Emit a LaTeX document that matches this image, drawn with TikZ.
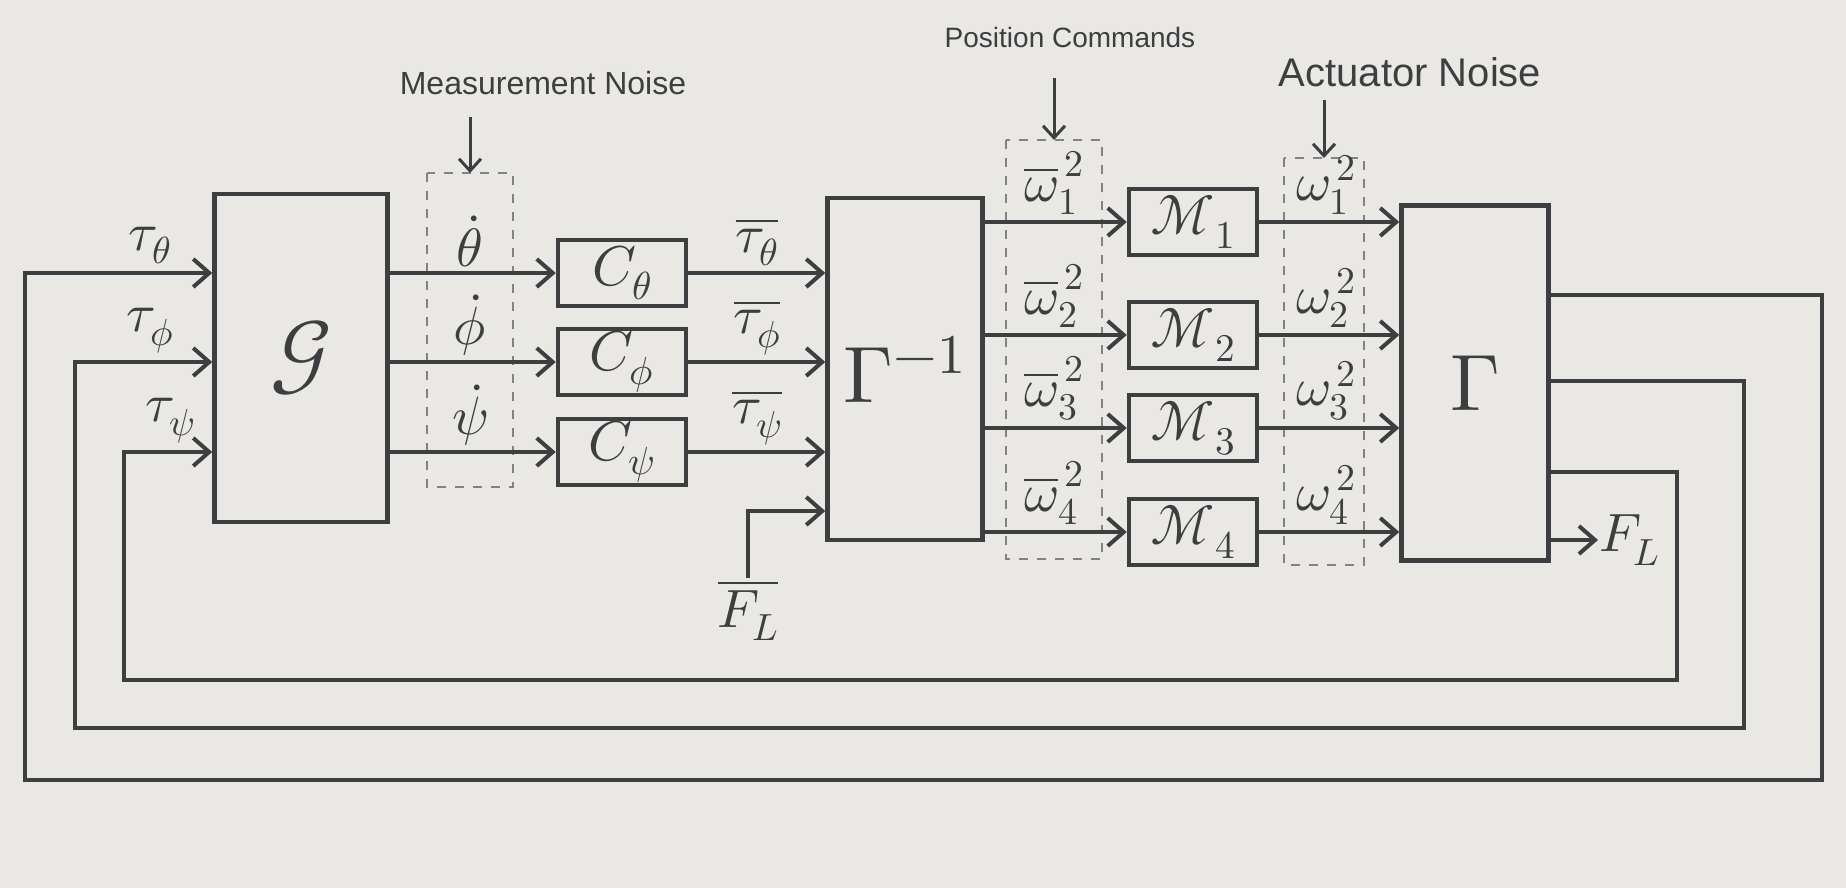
\documentclass[tikz,border=0pt]{standalone}
\usepackage{fontspec}
\usepackage{unicode-math}
\newfontfamily\annot{Liberation Sans}
\usetikzlibrary{arrows.meta}
\definecolor{paper}{RGB}{234,232,228}
\definecolor{ink}{RGB}{62,62,64}
\definecolor{pencil}{RGB}{130,130,130}
\tikzset{
  blk/.style={draw=ink,line width=4.5pt,inner sep=0pt,text=ink,font=\fontsize{56}{60}\selectfont},
  conn/.style={draw=ink,line width=4pt},
  arr/.style={conn,-{Straight Barb[length=16pt,width=28pt,line width=4pt]}},
  noisearr/.style={draw=ink,line width=3pt,-{Straight Barb[length=12pt,width=22pt,line width=3pt]}},
  noisebox/.style={draw=pencil,line width=1.6pt,dash pattern=on 9pt off 9pt},
  lbl/.style={text=ink,inner sep=1pt,font=\fontsize{54}{58}\selectfont},
  note/.style={text=ink,inner sep=0pt}
}
\begin{document}
\begin{tikzpicture}[x=1pt,y=-1pt]
\useasboundingbox (0,0) rectangle (1846,888);
\fill[paper] (0,0) rectangle (1846,888);

% noise / command regions
\coordinate (mboxN) at (470,173);
\coordinate (pboxN) at (1054,140);
\coordinate (aboxN) at (1324,158);
\draw[noisebox] (427,173) rectangle (513,487);
\draw[noisebox] (1006,140) rectangle (1102,559);
\draw[noisebox] (1284,158) rectangle (1364,565);

\node[note,font=\annot\fontsize{32}{36}\selectfont] (mnote) at (543,83) {Measurement Noise};
\node[note,font=\annot\fontsize{28}{32}\selectfont] (pnote) at (1070,37) {Position Commands};
\node[note,font=\annot\fontsize{40}{44}\selectfont] (anote) at (1410,72) {Actuator Noise};
\coordinate (mA) at (470,117);
\coordinate (pA) at (1054,78);
\coordinate (aA) at (1324,100);
\draw[noisearr] (mA) -- (mboxN);
\draw[noisearr] (pA) -- (pboxN);
\draw[noisearr] (aA) -- (aboxN);

% blocks
\node[blk,minimum width=173pt,minimum height=328pt,font=\fontsize{90}{96}\selectfont] (G) at (301,358) {$\mathcal{G}$};
\node[blk,minimum width=128pt,minimum height=66pt] (Cth) at (622,273) {$C_\theta$};
\node[blk,minimum width=128pt,minimum height=66pt] (Cph) at (622,362) {$C_\phi$};
\node[blk,minimum width=128pt,minimum height=66pt] (Cps) at (622,452) {$C_\psi$};
\node[blk,minimum width=155pt,minimum height=342pt,font=\fontsize{80}{86}\selectfont] (Ginv) at (905,369) {$\Gamma^{-1}$};
\node[blk,minimum width=128pt,minimum height=66pt] (M1) at (1193,222) {$\mathcal{M}_1$};
\node[blk,minimum width=128pt,minimum height=66pt] (M2) at (1193,335) {$\mathcal{M}_2$};
\node[blk,minimum width=128pt,minimum height=66pt] (M3) at (1193,428) {$\mathcal{M}_3$};
\node[blk,minimum width=128pt,minimum height=66pt] (M4) at (1193,532) {$\mathcal{M}_4$};
\node[blk,minimum width=147pt,minimum height=355pt,font=\fontsize{80}{86}\selectfont] (Gam) at (1475,383) {$\Gamma$};

% G -> controllers
\draw[arr] (G.east |- Cth) -- (Cth.west);
\draw[arr] (G.east |- Cph) -- (Cph.west);
\draw[arr] (G.east |- Cps) -- (Cps.west);
\node[lbl,anchor=south] (dth) at (470,268) {$\dot{\theta}$};
\node[lbl,anchor=south] (dph) at (470,357) {$\dot{\phi}$};
\node[lbl,anchor=south] (dps) at (470,447) {$\dot{\psi}$};

% controllers -> Gamma^{-1}
\draw[arr] (Cth.east) -- (Ginv.west |- Cth);
\draw[arr] (Cph.east) -- (Ginv.west |- Cph);
\draw[arr] (Cps.east) -- (Ginv.west |- Cps);
\node[lbl,anchor=south] (bth) at (757,267) {$\overline{\tau_\theta}$};
\node[lbl,anchor=south] (bph) at (757,356) {$\overline{\tau_\phi}$};
\node[lbl,anchor=south] (bps) at (757,446) {$\overline{\tau_\psi}$};

% F_L reference
\node[lbl] (FLb) at (748,610) {$\overline{F_L}$};
\coordinate (fl) at (0,511);
\draw[arr] (FLb.north) |- (Ginv.west |- fl);

% Gamma^{-1} -> motors
\draw[arr] (Ginv.east |- M1) -- (M1.west);
\draw[arr] (Ginv.east |- M2) -- (M2.west);
\draw[arr] (Ginv.east |- M3) -- (M3.west);
\draw[arr] (Ginv.east |- M4) -- (M4.west);
\node[lbl,anchor=south] (w1b) at (1054,216) {$\overline{\omega}_1^{\,2}$};
\node[lbl,anchor=south] (w2b) at (1054,329) {$\overline{\omega}_2^{\,2}$};
\node[lbl,anchor=south] (w3b) at (1054,422) {$\overline{\omega}_3^{\,2}$};
\node[lbl,anchor=south] (w4b) at (1054,526) {$\overline{\omega}_4^{\,2}$};

% motors -> Gamma
\draw[arr] (M1.east) -- (Gam.west |- M1);
\draw[arr] (M2.east) -- (Gam.west |- M2);
\draw[arr] (M3.east) -- (Gam.west |- M3);
\draw[arr] (M4.east) -- (Gam.west |- M4);
\node[lbl,anchor=south] (w1) at (1326,216) {$\omega_1^{\,2}$};
\node[lbl,anchor=south] (w2) at (1326,329) {$\omega_2^{\,2}$};
\node[lbl,anchor=south] (w3) at (1326,422) {$\omega_3^{\,2}$};
\node[lbl,anchor=south] (w4) at (1326,526) {$\omega_4^{\,2}$};

% F_L output
\node[lbl,anchor=west] (FL) at (1598,540) {$F_L$};
\draw[arr] (Gam.east |- FL.west) -- (FL.west);

% feedback loops
\coordinate (o1) at (0,295);
\coordinate (o2) at (0,381);
\coordinate (o3) at (0,472);
\coordinate (L1r) at (1822,780);
\coordinate (L1l) at (25,273);
\coordinate (L2r) at (1744,728);
\coordinate (L2l) at (75,362);
\coordinate (L3r) at (1677,680);
\coordinate (L3l) at (124,452);
\draw[arr] (Gam.east |- o1) -| (L1r) -| (L1l) -- (G.west |- L1l);
\draw[arr] (Gam.east |- o2) -| (L2r) -| (L2l) -- (G.west |- L2l);
\draw[arr] (Gam.east |- o3) -| (L3r) -| (L3l) -- (G.west |- L3l);
\node[lbl,anchor=south] (tth) at (150,265) {$\tau_\theta$};
\node[lbl,anchor=south] (tph) at (150,354) {$\tau_\phi$};
\node[lbl,anchor=south] (tps) at (170,444) {$\tau_\psi$};
\end{tikzpicture}
\end{document}
